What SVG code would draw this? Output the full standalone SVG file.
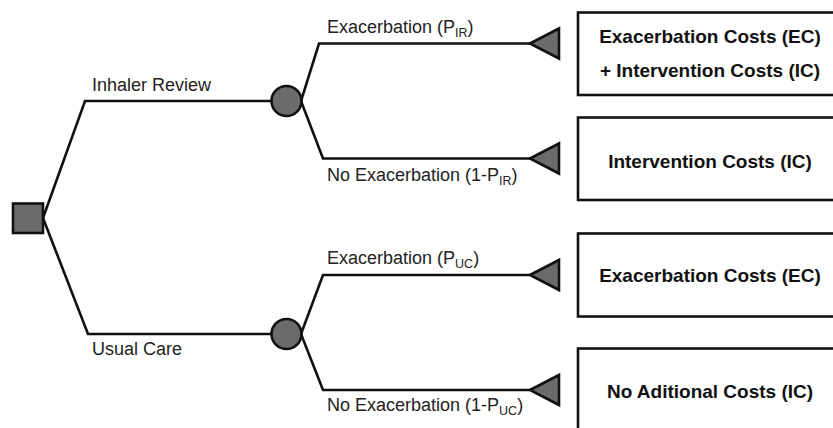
<svg xmlns="http://www.w3.org/2000/svg" width="833" height="428" viewBox="0 0 833 428">
<style>
.ln{fill:none;stroke:#111;stroke-width:2.6;stroke-linejoin:miter}
.nd{fill:#6b6b6b;stroke:#111;stroke-width:2.6}
.bx{fill:#fff;stroke:#111;stroke-width:2.6}
.lb{font-family:"Liberation Sans",Arial,sans-serif;font-size:18px;fill:#222}
.sb{font-size:12.5px}
.bt{font-family:"Liberation Sans",Arial,sans-serif;font-size:19px;font-weight:bold;fill:#111;text-anchor:middle}
</style>
<rect width="833" height="428" fill="#fff"/>
<g id="connectors">
<polyline class="ln" points="43,218 85,101 286,101"/>
<polyline class="ln" points="43,218 88,334 286,334"/>
<polyline class="ln" points="301,101 319,43.5 530,43.5"/>
<polyline class="ln" points="301,101 323,158.5 530,158.5"/>
<polyline class="ln" points="301,334 323,275 530,275"/>
<polyline class="ln" points="301,334 323,390 530,390"/>
</g>
<g id="decision"><rect class="nd" x="13" y="203.5" width="30" height="29.5"/></g>
<g id="chance-ir"><circle class="nd" cx="286.5" cy="101" r="15"/></g>
<g id="chance-uc"><circle class="nd" cx="286.5" cy="334" r="15"/></g>
<g id="term1"><polygon class="nd" points="530,43.5 559,28.5 559,58.5"/></g>
<g id="term2"><polygon class="nd" points="530,158.5 559,143.5 559,173.5"/></g>
<g id="term3"><polygon class="nd" points="530,275 559,260 559,290"/></g>
<g id="term4"><polygon class="nd" points="530,390 559,375 559,405"/></g>
<g id="labels">
<text class="lb" x="92" y="91">Inhaler Review</text>
<text class="lb" x="92" y="355">Usual Care</text>
<text class="lb" x="327" y="33">Exacerbation (P<tspan class="sb" dy="4">IR</tspan><tspan dy="-4">)</tspan></text>
<text class="lb" x="327" y="181">No Exacerbation (1-P<tspan class="sb" dy="4">IR</tspan><tspan dy="-4">)</tspan></text>
<text class="lb" x="327" y="264">Exacerbation (P<tspan class="sb" dy="4">UC</tspan><tspan dy="-4">)</tspan></text>
<text class="lb" x="327" y="411">No Exacerbation (1-P<tspan class="sb" dy="4">UC</tspan><tspan dy="-4">)</tspan></text>
</g>
<g id="box1"><rect class="bx" x="578" y="12.5" width="270" height="82.5"/>
<text class="bt" x="710" y="43">Exacerbation Costs (EC)</text>
<text class="bt" x="710" y="77">+ Intervention Costs (IC)</text></g>
<g id="box2"><rect class="bx" x="578" y="117.5" width="270" height="82.5"/>
<text class="bt" x="710" y="168">Intervention Costs (IC)</text></g>
<g id="box3"><rect class="bx" x="578" y="233.5" width="270" height="83"/>
<text class="bt" x="710" y="282">Exacerbation Costs (EC)</text></g>
<g id="box4"><rect class="bx" x="578" y="348.5" width="270" height="90"/>
<text class="bt" x="710" y="398">No Aditional Costs (IC)</text></g>
</svg>
